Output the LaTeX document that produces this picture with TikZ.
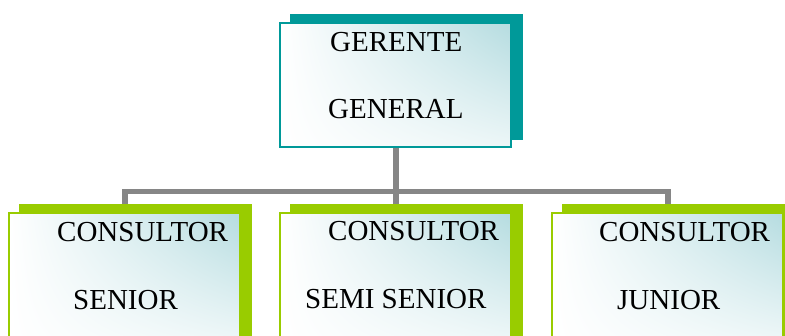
\documentclass[tikz,border=0pt]{standalone}
\usepackage{fontspec}
\setmainfont{Liberation Serif}
\usetikzlibrary{positioning,shadings}

\definecolor{tealdark}{HTML}{009999}
\definecolor{limegreen}{HTML}{99CC00}
\definecolor{barsgray}{HTML}{868686}
\definecolor{iceblue}{HTML}{B5DCE0}

\begin{document}
\begin{tikzpicture}[x=1pt,y=-1pt]
        \useasboundingbox (0,0) rectangle (785,335);
        \clip (0,0) rectangle (785,335);

        % connectors
        \coordinate (bus) at (396,191.5);
        \begin{scope}[every path/.style={draw=barsgray,line width=5.5pt}]
            \path (396,148) -- (396,212);
            \path (125,212) -- (125,191.5) -- (668,191.5) -- (668,212);
        \end{scope}

        % shadows
        \begin{scope}[every node/.style={rectangle,minimum width=233pt,minimum height=126pt,inner sep=0pt}]
            \node (GGs) [fill=tealdark] at (406.5,76.5) {};
            \node (CSs) [fill=limegreen,minimum height=134pt] at (135.5,271) {};
            \node (CSSs) [fill=limegreen,minimum height=134pt] at (406.5,271) {};
            \node (CJs) [fill=limegreen,minimum height=134pt] at (678.5,271) {};
        \end{scope}

        % front boxes
        \begin{scope}[every node/.style={rectangle,minimum width=231pt,minimum height=124pt,inner sep=0pt,
                      line width=2pt,shade,upper right=iceblue,upper left=white,lower left=white,
                      lower right=iceblue!25}]
            \node (GG) [draw=tealdark] at (395.5,85) {};
            \node (CS) [draw=limegreen] at (124.5,275) {};
            \node (CSS) [draw=limegreen] at (395.5,275) {};
            \node (CJ) [draw=limegreen] at (667.5,275) {};
        \end{scope}

        % labels
        \begin{scope}[every node/.style={anchor=base west,inner sep=0pt,font=\fontsize{29}{29}\selectfont}]
            \node (GG1) at (330,51) {GERENTE};
            \node (GG2) at (328,118) {GENERAL};
            \node (CS1) at (57,241) {CONSULTOR};
            \node (CS2) at (73,309) {SENIOR};
            \node (CSS1) at (328,240) {CONSULTOR};
            \node (CSS2) at (305,308) {SEMI SENIOR};
            \node (CJ1) at (599,241) {CONSULTOR};
            \node (CJ2) at (617,309) {JUNIOR};
        \end{scope}
    \end{tikzpicture}
\end{document}
